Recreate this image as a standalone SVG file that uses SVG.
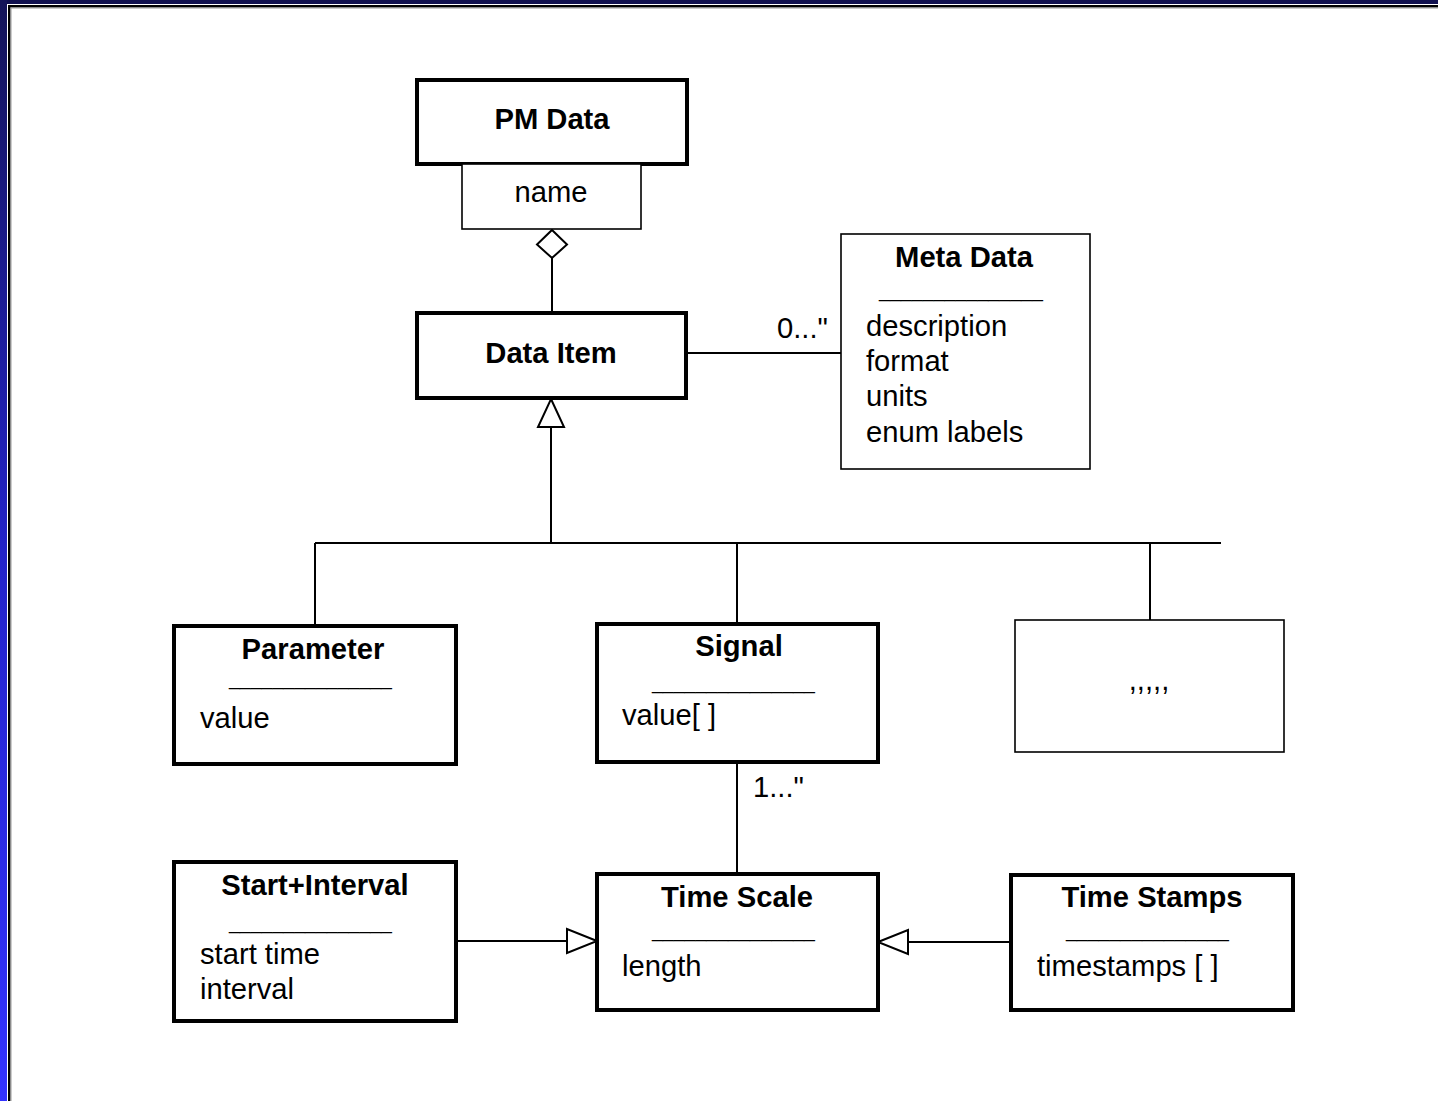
<svg xmlns="http://www.w3.org/2000/svg" width="1438" height="1101" viewBox="0 0 1438 1101">
<defs>
<linearGradient id="lbar" x1="0" y1="0" x2="0" y2="1">
<stop offset="0" stop-color="#141458"/>
<stop offset="0.5" stop-color="#2323c8"/>
<stop offset="1" stop-color="#3333ff"/>
</linearGradient>
<style>
.thick{fill:#fff;stroke:#000;stroke-width:4}
.thin{fill:#fff;stroke:#000;stroke-width:1.6}
.t{font-family:"Liberation Sans",Arial,sans-serif;font-size:29.2px;fill:#000}
.b{font-weight:bold;text-anchor:middle}
.c{text-anchor:middle}
.u{font-family:"Liberation Sans",Arial,sans-serif;font-size:20px;fill:#000}
.ln{fill:none;stroke:#000;stroke-width:2}
.hd{fill:#fff;stroke:#000;stroke-width:2}
</style>
</defs>
<rect x="0" y="0" width="1438" height="1101" fill="#fff"/>
<g id="frame">
<rect x="0" y="0" width="1438" height="4" fill="#10104f"/>
<rect x="0" y="0" width="7" height="1101" fill="url(#lbar)"/>
<rect x="8" y="5" width="1430" height="2.5" fill="#000"/>
<rect x="8" y="5" width="2.5" height="1096" fill="#000"/>
<rect x="10.5" y="7.5" width="1428" height="1" fill="#999"/>
<rect x="10.5" y="7.5" width="1" height="1094" fill="#999"/>
</g>
<g id="connectors">
<path class="ln" d="M552 258 V313"/>
<polygon class="hd" points="552,230 567,244.5 552,258 537,244.5"/>
<path class="ln" d="M686 353 H841"/>
<path class="ln" d="M551 427 V543 M315 543 H1221 M315 543 V626 M737 543 V624 M1150 543 V620"/>
<polygon class="hd" points="551,399 564,427 538,427"/>
<path class="ln" d="M737 762 V874"/>
<path class="ln" d="M456 941 H567"/>
<polygon class="hd" points="597,941 567,929 567,953"/>
<path class="ln" d="M1011 942 H908"/>
<polygon class="hd" points="878,942 908,930 908,954"/>
<text class="t" x="777" y="338">0..."</text>
<text class="t" x="753" y="797">1..."</text>
</g>
<g id="pm-data">
<rect class="thick" x="417" y="80" width="270" height="84"/>
<text class="t b" x="552" y="129">PM Data</text>
</g>
<g id="pm-name">
<rect class="thin" x="462" y="164" width="179" height="65"/>
<text class="t c" x="551" y="202">name</text>
</g>
<g id="data-item">
<rect class="thick" x="417" y="313" width="269" height="85"/>
<text class="t b" x="551" y="363">Data Item</text>
</g>
<g id="meta-data">
<rect class="thin" x="841" y="234" width="249" height="235"/>
<text class="t b" x="964" y="267">Meta Data</text>
<text class="u" x="879" y="297" textLength="164" lengthAdjust="spacingAndGlyphs">_______________</text>
<text class="t" x="866" y="336">description</text>
<text class="t" x="866" y="371">format</text>
<text class="t" x="866" y="406">units</text>
<text class="t" x="866" y="442">enum labels</text>
</g>
<g id="parameter">
<rect class="thick" x="174" y="626" width="282" height="138"/>
<text class="t b" x="313" y="659">Parameter</text>
<text class="u" x="229" y="685" textLength="163" lengthAdjust="spacingAndGlyphs">_______________</text>
<text class="t" x="200" y="728">value</text>
</g>
<g id="signal">
<rect class="thick" x="597" y="624" width="281" height="138"/>
<text class="t b" x="739" y="656">Signal</text>
<text class="u" x="652" y="689" textLength="163" lengthAdjust="spacingAndGlyphs">_______________</text>
<text class="t" x="622" y="725">value[ ]</text>
</g>
<g id="more">
<rect class="thin" x="1015" y="620" width="269" height="132"/>
<text class="t c" x="1149" y="690">,,,,,</text>
</g>
<g id="start-interval">
<rect class="thick" x="174" y="862" width="282" height="159"/>
<text class="t b" x="315" y="895">Start+Interval</text>
<text class="u" x="229" y="929" textLength="163" lengthAdjust="spacingAndGlyphs">_______________</text>
<text class="t" x="200" y="964">start time</text>
<text class="t" x="200" y="999">interval</text>
</g>
<g id="time-scale">
<rect class="thick" x="597" y="874" width="281" height="136"/>
<text class="t b" x="737" y="907">Time Scale</text>
<text class="u" x="652" y="937" textLength="163" lengthAdjust="spacingAndGlyphs">_______________</text>
<text class="t" x="622" y="976">length</text>
</g>
<g id="time-stamps">
<rect class="thick" x="1011" y="875" width="282" height="135"/>
<text class="t b" x="1152" y="907">Time Stamps</text>
<text class="u" x="1066" y="937" textLength="163" lengthAdjust="spacingAndGlyphs">_______________</text>
<text class="t" x="1037" y="976">timestamps [ ]</text>
</g>
</svg>
